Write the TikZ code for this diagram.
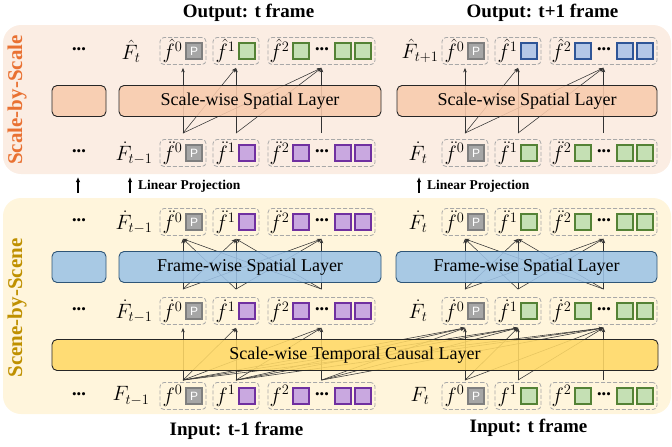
\documentclass[tikz,border=0pt]{standalone}
\usepackage{fontspec}
\setmainfont{Liberation Serif}
\newfontfamily\sansP{Liberation Sans}
\usetikzlibrary{arrows.meta,calc}

\definecolor{topbg}{HTML}{FBEDE3}
\definecolor{botbg}{HTML}{FFF5DC}
\definecolor{sslfill}{HTML}{F8CBAD}
\definecolor{fwfill}{HTML}{9DC3E6}
\definecolor{fwdraw}{HTML}{2E5577}
\definecolor{tcfill}{HTML}{FFD966}
\definecolor{orangetxt}{HTML}{E97132}
\definecolor{goldtxt}{HTML}{BF9000}
\definecolor{purfill}{HTML}{C9A8E0}
\definecolor{purdraw}{HTML}{7030A0}
\definecolor{grnfill}{HTML}{C5E0B4}
\definecolor{grndraw}{HTML}{548235}
\definecolor{blufill}{HTML}{B4C7E7}
\definecolor{bludraw}{HTML}{2F5597}
\definecolor{gryfill}{HTML}{A6A6A6}
\definecolor{grydraw}{HTML}{7F7F7F}
\definecolor{dashgray}{HTML}{A8A8A8}

\pgfdeclarelayer{back}
\pgfdeclarelayer{lines}
\pgfsetlayers{back,lines,main}

\newcommand{\smallgrp}[6]{%
  \node[grp, minimum width=46pt] (#1) at ({#2+23},#3) {};
  \node[lbl] (#1-l) at ({#2+12.5},#3) {$#4$};
  \node[#5] (#1-a) at ({#2+34},#3) {#6};
}
\newcommand{\biggrp}[5]{%
  \node[grp, minimum width=107pt] (#1) at ({#2+53.5},#3) {};
  \node[lbl] (#1-l) at ({#2+11.5},#3) {$#4$};
  \node[#5] (#1-a) at ({#2+33},#3) {};
  \node[dotsn] (#1-d) at ({#2+54},#3) {•••};
  \node[#5] (#1-b) at ({#2+75},#3) {};
  \node[#5] (#1-c) at ({#2+95},#3) {};
}

\begin{document}
\begin{tikzpicture}[x=1pt,y=-1pt,
  grp/.style={draw=dashgray, dash pattern=on 4pt off 2pt, rounded corners=4pt, line width=0.8pt, minimum height=27pt, inner sep=0pt},
  lbl/.style={inner sep=0pt, font=\fontsize{19.5}{22}\selectfont},
  tok/.style={minimum size=16.5pt, line width=2.4pt, inner sep=0pt},
  ptok/.style={tok, fill=gryfill, draw=grydraw, text=white, font=\sansP\fontsize{12}{12}\selectfont},
  gtok/.style={tok, fill=grnfill, draw=grndraw},
  utok/.style={tok, fill=purfill, draw=purdraw},
  btok/.style={tok, fill=blufill, draw=bludraw},
  dotsn/.style={inner sep=0pt, font=\fontsize{13}{13}\selectfont},
  rowlbl/.style={inner sep=0pt, font=\fontsize{19.5}{22}\selectfont},
  layer/.style={draw=black!85, line width=0.9pt, rounded corners=5pt, minimum height=31pt, inner sep=0pt, fill opacity=0.88, text opacity=1, font=\fontsize{18}{20}\selectfont},
  ssl/.style={layer, fill=sslfill},
  fwl/.style={layer, fill=fwfill, draw=fwdraw},
  tcl/.style={layer, fill=tcfill},
  conn/.style={draw=black!80, line width=0.55pt, -{Stealth[length=4.5pt,width=3.5pt]}},
  proj/.style={draw=black, line width=1.4pt, -{Latex[length=5pt,width=4.5pt]}},
  title/.style={font=\bfseries\fontsize{19}{22}\selectfont, inner sep=0pt},
  side/.style={font=\bfseries\fontsize{21}{24}\selectfont, inner sep=0pt, rotate=90},
  projlbl/.style={font=\bfseries\fontsize{13.5}{15}\selectfont, inner sep=0pt, anchor=west}
]
\useasboundingbox (0,0) rectangle (672,447);

% panels
\begin{pgfonlayer}{back}
  \fill[topbg, rounded corners=18pt] (3,25) rectangle (671,174);
  \fill[botbg, rounded corners=18pt] (3,198) rectangle (671,414);
\end{pgfonlayer}

\node[side, text=orangetxt] (sbs) at (17,100) {Scale-by-Scale};
\node[side, text=goldtxt] (sbsc) at (17,308) {Scene-by-Scene};

% titles
\node[title] (out1) at (248.5,13) {Output: t frame};
\node[title] (out2) at (542.5,13) {Output: t+1 frame};
\node[title] (in1) at (236.5,431) {Input: t-1 frame};
\node[title] (in2) at (528.5,428) {Input: t frame};

% row ellipses
\foreach \yy/\nm in {51/a,153/b,222/c,311/d,396/e}{
  \node[dotsn] (dots\nm) at (79,\yy) {•••};
}

% row labels
\node[rowlbl] (FAL) at (131,51) {$\hat{F}_t$};
\node[rowlbl] (FAR) at (420,51) {$\hat{F}_{t+1}$};
\node[rowlbl] (FBL) at (134,153) {$\dot{F}_{t-1}$};
\node[rowlbl] (FBR) at (418,153) {$\dot{F}_t$};
\node[rowlbl] (FCL) at (134,222) {$\dot{F}_{t-1}$};
\node[rowlbl] (FCR) at (418,222) {$\dot{F}_t$};
\node[rowlbl] (FDL) at (134,311) {$\dot{F}_{t-1}$};
\node[rowlbl] (FDR) at (418,311) {$\dot{F}_t$};
\node[rowlbl] (FEL) at (131,396) {$F_{t-1}$};
\node[rowlbl] (FER) at (420,396) {$F_t$};

% Row A
\smallgrp{AL0}{160}{51}{\hat{f}^0}{ptok}{P}
\smallgrp{AL1}{213}{51}{\hat{f}^1}{gtok}{}
\biggrp{AL2}{268}{51}{\hat{f}^2}{gtok}
\smallgrp{AR0}{442}{51}{\hat{f}^0}{ptok}{P}
\smallgrp{AR1}{495}{51}{\hat{f}^1}{btok}{}
\biggrp{AR2}{550}{51}{\hat{f}^2}{btok}
% Row B
\smallgrp{BL0}{160}{153}{\ddot{f}^0}{ptok}{P}
\smallgrp{BL1}{213}{153}{\ddot{f}^1}{utok}{}
\biggrp{BL2}{268}{153}{\ddot{f}^2}{utok}
\smallgrp{BR0}{442}{153}{\ddot{f}^0}{ptok}{P}
\smallgrp{BR1}{495}{153}{\ddot{f}^1}{gtok}{}
\biggrp{BR2}{550}{153}{\ddot{f}^2}{gtok}
% Row C
\smallgrp{CL0}{160}{222}{\ddot{f}^0}{ptok}{P}
\smallgrp{CL1}{213}{222}{\ddot{f}^1}{utok}{}
\biggrp{CL2}{268}{222}{\ddot{f}^2}{utok}
\smallgrp{CR0}{442}{222}{\ddot{f}^0}{ptok}{P}
\smallgrp{CR1}{495}{222}{\ddot{f}^1}{gtok}{}
\biggrp{CR2}{550}{222}{\ddot{f}^2}{gtok}
% Row D
\smallgrp{DL0}{160}{311}{\dot{f}^0}{ptok}{P}
\smallgrp{DL1}{213}{311}{\dot{f}^1}{utok}{}
\biggrp{DL2}{268}{311}{\dot{f}^2}{utok}
\smallgrp{DR0}{442}{311}{\dot{f}^0}{ptok}{P}
\smallgrp{DR1}{495}{311}{\dot{f}^1}{gtok}{}
\biggrp{DR2}{550}{311}{\dot{f}^2}{gtok}
% Row E
\smallgrp{EL0}{160}{396}{f^0}{ptok}{P}
\smallgrp{EL1}{213}{396}{f^1}{utok}{}
\biggrp{EL2}{268}{396}{f^2}{utok}
\smallgrp{ER0}{442}{396}{f^0}{ptok}{P}
\smallgrp{ER1}{495}{396}{f^1}{gtok}{}
\biggrp{ER2}{550}{396}{f^2}{gtok}

% layers
\node[ssl, minimum width=54pt] (sslS) at (79,101) {};
\node[ssl, minimum width=262pt] (sslL) at (250,101) {Scale-wise Spatial Layer};
\node[ssl, minimum width=260pt] (sslR) at (527,101) {Scale-wise Spatial Layer};
\node[fwl, minimum width=54pt] (fwS) at (79,267) {};
\node[fwl, minimum width=262pt] (fwL) at (250,267) {Frame-wise Spatial Layer};
\node[fwl, minimum width=261pt] (fwR) at (526.5,267) {Frame-wise Spatial Layer};
\node[tcl, minimum width=606pt] (tc) at (355,355) {Scale-wise Temporal Causal Layer};

% connectors
\begin{pgfonlayer}{lines}
  \foreach \X in {L,R}{
    \foreach \i in {0,1,2}{
      \foreach \j in {\i,...,2}{
        \draw[conn] ([yshift=6pt]B\X\i.north) -- ([yshift=-3pt]A\X\j.south);
      }
    }
  }
  \foreach \X in {L,R}{
    \foreach \i in {0,1,2}{
      \foreach \j in {0,1,2}{
        \draw[conn] ([yshift=8pt]D\X\i.north) -- ([yshift=-3pt]C\X\j.south);
      }
    }
  }
  \foreach \X in {L,R}{
    \foreach \i in {0,1,2}{
      \foreach \j in {\i,...,2}{
        \draw[conn] ([yshift=2pt]E\X\i.north) -- ([yshift=-3pt]D\X\j.south);
      }
    }
  }
  \foreach \i in {0,1,2}{
    \foreach \j in {0,1,2}{
      \draw[conn] ([yshift=2pt]EL\i.north) -- ([yshift=-3pt]DR\j.south);
    }
  }
\end{pgfonlayer}

% linear projection arrows
\coordinate (p1s) at (78,193);  \coordinate (p1e) at (78,177);
\coordinate (p2s) at (130,193); \coordinate (p2e) at (130,177);
\coordinate (p3s) at (419,193); \coordinate (p3e) at (419,177);
\draw[proj] (p1s) -- (p1e);
\draw[proj] (p2s) -- (p2e);
\draw[proj] (p3s) -- (p3e);
\node[projlbl] (lp1) at (138,186) {Linear Projection};
\node[projlbl] (lp2) at (427,186) {Linear Projection};
\end{tikzpicture}
\end{document}
